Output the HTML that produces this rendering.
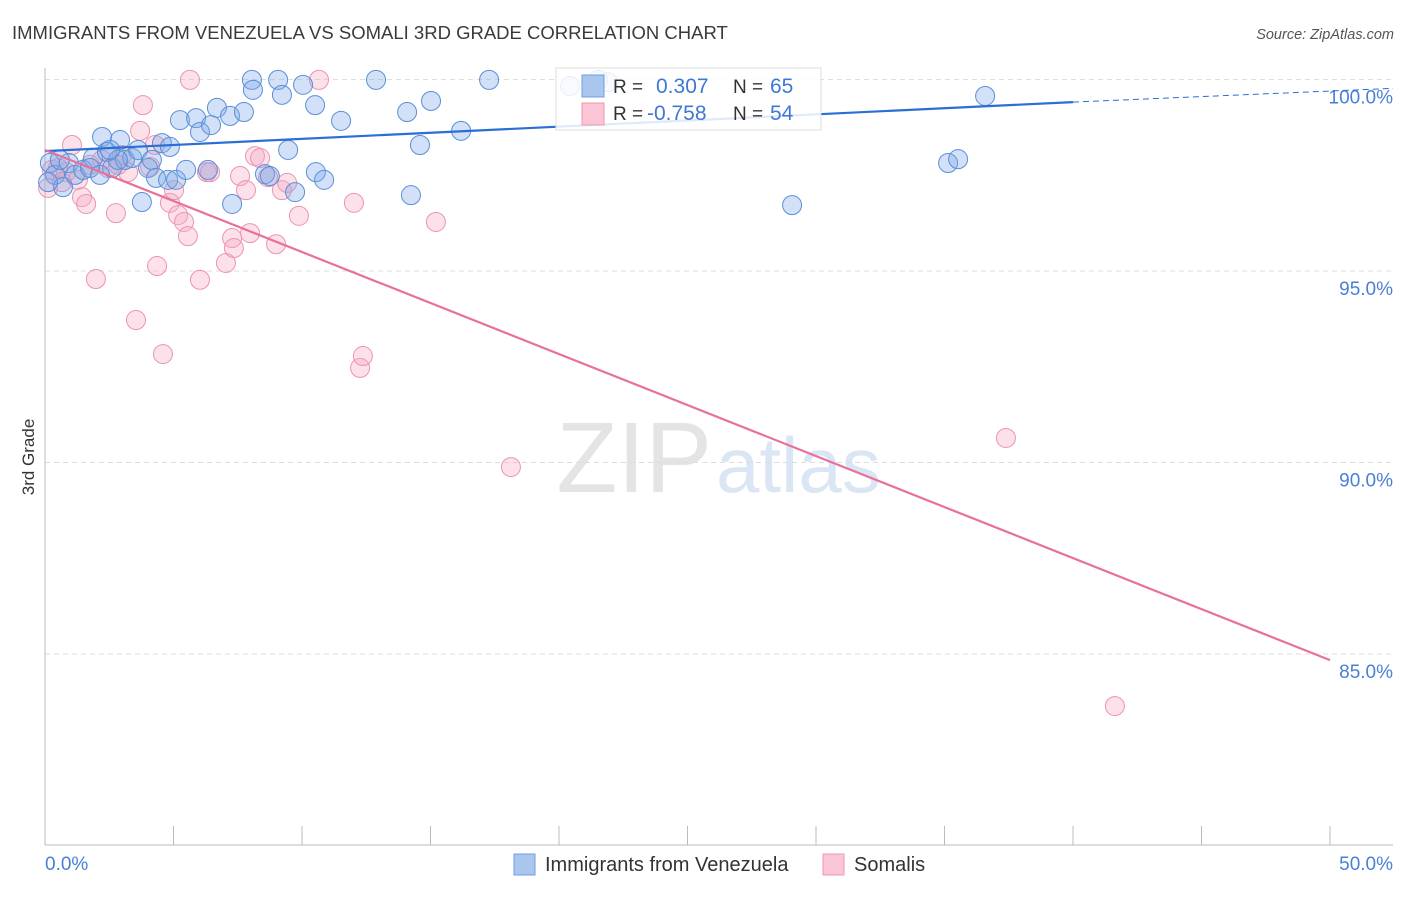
<!DOCTYPE html>
<html><head><meta charset="utf-8"><style>
body{margin:0;background:#fff;font-family:"Liberation Sans",sans-serif;}
svg text{font-family:"Liberation Sans",sans-serif;}
</style></head><body>
<svg id="chart" width="1406" height="892">
<text x="12" y="39" font-size="18.5" fill="#3a3a3a">IMMIGRANTS FROM VENEZUELA VS SOMALI 3RD GRADE CORRELATION CHART</text>
<text x="1394" y="39" font-size="14.5" fill="#555" text-anchor="end" font-style="italic">Source: ZipAtlas.com</text>
<text x="34" y="457" font-size="17" fill="#333" transform="rotate(-90 34 457)" text-anchor="middle">3rd Grade</text>
<text x="712" y="492" font-size="100" fill="#e4e4e4" text-anchor="end" font-family="Liberation Serif">ZIP</text>
<text x="716" y="492" font-size="78" fill="#dbe6f5">atlas</text>
<g id="grid"></g><g id="axes"></g><g id="marks"></g><g id="lines"></g>
<g>
<rect x="556" y="68" width="265" height="62" fill="#fff" fill-opacity="0.85" stroke="#ddd"/>
<rect x="582" y="75" width="22" height="22" fill="#a9c6ef" stroke="#6f9de0"/>
<rect x="582" y="103" width="22" height="22" fill="#fac5d5" stroke="#ec9ab5"/>
<text x="613" y="93" font-size="19" fill="#333">R = </text><text x="656" y="93" font-size="21" fill="#3f78d4">0.307</text>
<text x="733" y="93" font-size="19" fill="#333">N = </text><text x="770" y="93" font-size="21" fill="#3f78d4">65</text>
<text x="613" y="120" font-size="19" fill="#333">R = </text><text x="647" y="120" font-size="21" fill="#3f78d4">-0.758</text>
<text x="733" y="120" font-size="19" fill="#333">N = </text><text x="770" y="120" font-size="21" fill="#3f78d4">54</text>
</g>
<g>
<rect x="514" y="854" width="21" height="21" fill="#a9c6ef" stroke="#6f9de0"/>
<text x="545" y="871" font-size="20" fill="#333">Immigrants from Venezuela</text>
<rect x="823" y="854" width="21" height="21" fill="#fac5d5" stroke="#ec9ab5"/>
<text x="854" y="871" font-size="20" fill="#333">Somalis</text>
</g>
</svg>
<script>
const yTicks=[100,95,90,85];
const yTickLabels=["100.0%","95.0%","90.0%","85.0%"];
const xTicks=[0,5,10,15,20,25,30,35,40,45,50];
const xEndLabels=["0.0%","50.0%"];
const venX=[0.19,0.39,0.70,0.93,1.17,1.48,1.87,2.22,2.41,2.61,2.92,3.11,3.39,3.62,3.77,4.01,4.16,4.32,4.55,4.79,4.86,5.10,5.25,5.49,5.88,6.03,6.34,6.46,6.69,7.20,7.28,7.74,8.05,8.09,8.56,8.75,9.07,9.22,9.46,9.73,10.04,10.51,10.54,10.86,11.52,12.88,14.09,14.24,14.59,15.02,16.19,17.28,20.43,21.52,21.91,29.07,35.14,35.53,36.58,2.14,1.75,2.84,2.53,0.58,0.12];
const venY=[97.82,97.51,97.19,97.82,97.51,97.64,97.95,98.50,98.11,97.69,98.42,97.90,97.95,98.16,96.80,97.69,97.90,97.43,98.34,97.38,98.24,97.38,98.94,97.64,98.99,98.63,97.64,98.81,99.26,99.05,96.75,99.15,99.99,99.73,97.53,97.48,99.99,99.60,98.16,97.06,99.86,99.33,97.58,97.38,98.92,99.99,99.15,96.98,98.29,99.44,98.66,99.99,99.83,99.99,99.93,96.72,97.82,97.92,99.57,97.51,97.69,97.90,98.16,97.90,97.32];
const somX=[0.12,0.27,0.51,0.82,1.05,1.28,1.44,1.60,1.98,2.22,2.45,2.76,3.00,3.23,3.54,3.70,3.81,4.09,4.28,4.36,4.59,4.86,5.02,5.18,5.41,5.56,5.64,6.03,6.30,6.42,7.04,7.28,7.35,7.59,7.82,7.98,8.17,8.37,8.68,8.99,9.22,9.42,9.88,10.66,12.02,12.26,12.37,15.21,18.13,37.39,41.63,0.66,1.75,2.84];
const somY=[97.17,97.64,97.69,97.58,98.29,97.38,96.93,96.75,94.79,97.90,97.69,96.51,98.03,97.58,93.72,98.66,99.33,97.72,98.29,95.13,92.83,96.78,97.11,96.46,96.28,95.91,99.99,94.77,97.58,97.58,95.21,95.86,95.60,97.48,97.11,95.99,98.00,97.95,97.45,95.70,97.11,97.30,96.44,99.99,96.78,92.47,92.78,96.28,89.88,90.64,83.64,97.32,97.77,97.77];
const venTrend=[[0,98.13],[40,99.41]];
const venTrendDash=[[40,99.41],[50,99.73]];
const somTrend=[[0,98.16],[50,84.84]];
const NS="http://www.w3.org/2000/svg";
const X0=45,X1=1330,PT=68,PB=845;
const sx=v=>X0+(v/50)*(X1-X0);
const sy=v=>79.5+(100-v)*38.3;
function mk(tag,attrs,parent){const e=document.createElementNS(NS,tag);for(const k in attrs)e.setAttribute(k,attrs[k]);document.getElementById(parent).appendChild(e);return e;}
yTicks.forEach((t,i)=>{
const g=mk('line',{x1:X0,x2:1393,y1:sy(t),y2:sy(t),stroke:'#ddd','stroke-dasharray':'5,4'},'grid');


const l=mk('text',{x:1393,y:sy(t)+24,'font-size':19,fill:'#4a7fd6','text-anchor':'end'},'axes');
l.textContent=yTickLabels[i];


});
const ax=mk('line',{x1:X0,x2:X0,y1:PT,y2:PB,stroke:'#bbb'},'axes');


const bx=mk('line',{x1:X0,x2:1393,y1:PB,y2:PB,stroke:'#bbb'},'axes');


xTicks.forEach(t=>{
const tk=mk('line',{x1:sx(t),x2:sx(t),y1:826,y2:PB,stroke:'#bbb'},'axes');


});
const xl0=mk('text',{x:45,y:870,'font-size':19,fill:'#4a7fd6'},'axes');xl0.textContent=xEndLabels[0];


const xl1=mk('text',{x:1393,y:870,'font-size':19,fill:'#4a7fd6','text-anchor':'end'},'axes');xl1.textContent=xEndLabels[1];


somX.forEach((x,i)=>{
const c=mk('circle',{cx:sx(x),cy:sy(somY[i]),r:9.5,fill:'rgba(246,168,195,0.35)',stroke:'#eb94b2','stroke-width':1},'marks');


});
venX.forEach((x,i)=>{
const c=mk('circle',{cx:sx(x),cy:sy(venY[i]),r:9.5,fill:'rgba(125,168,232,0.35)',stroke:'#5b8fd8','stroke-width':1},'marks');


});
const l1=mk('line',{x1:sx(venTrend[0][0]),y1:sy(venTrend[0][1]),x2:sx(venTrend[1][0]),y2:sy(venTrend[1][1]),stroke:'#2a6ed6','stroke-width':2.2},'lines');


const l2=mk('line',{x1:sx(venTrendDash[0][0]),y1:sy(venTrendDash[0][1]),x2:1393,y2:sy(venTrendDash[1][1])-1.5,stroke:'#2a6ed6','stroke-width':1,'stroke-dasharray':'6,4'},'lines');


const l3=mk('line',{x1:sx(somTrend[0][0]),y1:sy(somTrend[0][1]),x2:sx(somTrend[1][0]),y2:sy(somTrend[1][1]),stroke:'#e8709a','stroke-width':2.2},'lines');


</script>
</body></html>
